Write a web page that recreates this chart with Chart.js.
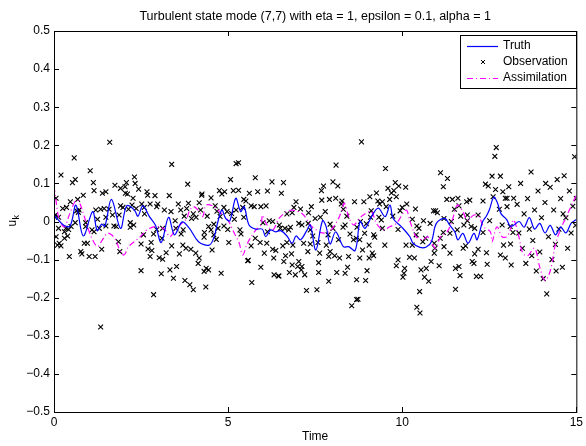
<!DOCTYPE html>
<html>
<head>
<meta charset="utf-8">
<script src="https://cdn.jsdelivr.net/npm/chart.js@4.4.0/dist/chart.umd.min.js"></script>
<style>
  html, body { margin: 0; padding: 0; background: #fff; }
</style>
</head>
<body>
<canvas id="c" width="586" height="446"></canvas>
<script>
// ---- data ----
const titleText = 'Turbulent state mode (7,7) with eta = 1, epsilon = 0.1, alpha = 1';
const xTicks = [0, 5, 10, 15];
const yTicks = [0.5, 0.4, 0.3, 0.2, 0.1, 0, -0.1, -0.2, -0.3, -0.4, -0.5];

// Truth (blue solid) : [time, u]
const truth = [
  [0, 0.017], [0.27, -0.009], [0.46, -0.012], [0.63, 0.043], [0.84, -0.038], [1.11, 0.026],
  [1.24, -0.024], [1.36, -0.007], [1.46, -0.012], [1.65, 0.058], [1.91, -0.018], [2.09, 0.041],
  [2.31, 0.030], [2.41, 0.014], [2.55, 0.041], [2.74, 0.013], [2.91, -0.009], [3.08, -0.055],
  [3.29, 0.011], [3.46, -0.035], [3.68, -0.001], [3.89, -0.018], [4.15, -0.053], [4.46, -0.062],
  [4.6, -0.04], [4.68, -0.01], [4.82, 0.03], [4.93, 0.008], [5.05, 0.002], [5.22, 0.061],
  [5.36, 0.026], [5.46, 0.039], [5.6, -0.009], [5.79, -0.02], [5.98, -0.02], [6.08, -0.04],
  [6.22, -0.022], [6.36, -0.027], [6.51, -0.024], [6.69, -0.038], [6.84, -0.057], [6.95, -0.038],
  [7.08, -0.048], [7.27, -0.022], [7.36, -0.009], [7.52, -0.075], [7.71, 0.002], [7.81, -0.012],
  [7.93, -0.059], [8.09, -0.027], [8.31, -0.066], [8.46, -0.066], [8.65, -0.076], [8.79, 0],
  [8.93, -0.018], [9.12, 0.013], [9.31, 0.035], [9.51, 0.013], [9.65, 0.043], [9.74, 0.008],
  [9.98, -0.014], [10.22, -0.04], [10.31, -0.057], [10.51, -0.068], [10.69, -0.067], [10.84, -0.053],
  [10.98, -0.005], [11.22, 0.008], [11.36, -0.009], [11.51, -0.027], [11.6, -0.048], [11.74, -0.031],
  [11.89, -0.057], [12.06, -0.031], [12.15, -0.048], [12.31, 0], [12.41, 0.013], [12.5, 0.03],
  [12.63, 0.064], [12.73, 0.05], [12.84, 0.02], [13.0, 0.005], [13.1, -0.012], [13.2, -0.01],
  [13.36, 0], [13.5, -0.015], [13.65, 0.01], [13.8, -0.02], [13.95, -0.005], [14.1, -0.03],
  [14.25, -0.01], [14.4, -0.035], [14.55, -0.015], [14.7, -0.03], [14.85, -0.005], [15, 0.005]
];

// Assimilation (magenta dash-dot) : [time, u]
const assimilation = [
  [0, 0.093], [0.05, 0.06], [0.12, 0.017], [0.2, -0.005], [0.3, -0.014], [0.45, 0.02],
  [0.63, 0.056], [0.72, 0.052], [0.87, 0.013], [0.96, -0.014], [1.11, -0.048], [1.25, -0.066],
  [1.39, -0.048], [1.53, -0.031], [1.65, -0.035], [1.77, -0.048], [1.89, -0.075], [2.01, -0.088],
  [2.14, -0.066], [2.43, -0.044], [2.57, -0.031], [2.67, -0.022], [2.86, -0.014], [3.05, -0.014],
  [3.19, -0.022], [3.33, -0.04], [3.48, -0.022], [3.67, -0.005], [3.81, 0.008], [3.9, 0.03],
  [4.0, 0.039], [4.14, 0.03], [4.27, 0.013], [4.37, 0.043], [4.6, 0.039], [4.8, 0.021],
  [4.99, 0.004], [5.18, -0.031], [5.32, -0.057], [5.42, -0.088], [5.54, -0.06], [5.66, -0.04],
  [5.8, -0.022], [5.94, -0.009], [5.99, 0.017], [6.09, -0.005], [6.28, -0.022], [6.46, 0.008],
  [6.69, 0.026], [6.84, 0.03], [7.12, 0.021], [7.27, 0.004], [7.36, -0.009], [7.5, -0.02],
  [7.7, -0.03], [7.89, -0.027], [8.03, -0.014], [8.17, 0.008], [8.27, 0.03], [8.34, 0.048],
  [8.46, 0.013], [8.6, -0.009], [8.74, 0.004], [8.88, 0.017], [9.11, 0.026], [9.26, -0.005],
  [9.45, -0.022], [9.64, -0.014], [9.83, -0.005], [10.11, 0.03], [10.21, 0.004], [10.31, -0.022],
  [10.4, -0.04], [10.59, -0.048], [10.73, -0.04], [10.88, -0.062], [10.97, -0.07], [11.1, -0.04],
  [11.29, -0.027], [11.44, 0.004], [11.58, 0.043], [11.72, 0.03], [11.87, 0.004], [12.06, 0.017],
  [12.2, 0.013], [12.34, -0.014], [12.53, -0.027], [12.58, -0.053], [12.72, -0.014], [12.87, -0.04],
  [13.0, -0.04], [13.1, -0.022], [13.2, 0.004], [13.35, -0.04], [13.46, -0.083], [13.6, -0.09],
  [13.8, -0.07], [13.95, -0.12], [14.1, -0.155], [14.25, -0.13], [14.4, -0.06], [14.55, -0.02],
  [14.7, 0.01], [14.85, 0.04], [15, 0.07]
];

// Observation (black x markers) : [time, u]
const observation = [
  [1.60, 0.208], [0.58, 0.167], [1.04, 0.133], [0.20, 0.122], [0.53, 0.102], [0.61, 0.11],
  [1.13, 0.102], [1.75, 0.095], [1.91, 0.087], [2.04, 0.091], [1.15, 0.081], [1.49, 0.078],
  [1.39, 0.074], [0.06, 0.061], [0.84, 0.069], [0.68, 0.058], [0.47, 0.052], [0.25, 0.034],
  [0.36, 0.037], [0.72, 0.03], [0.65, 0.028], [0.70, 0.024], [1.2, 0.03], [1.58, 0.032],
  [1.34, 0.032], [1.44, 0.034], [1.91, 0.041], [1.98, 0.037], [0.04, 0.017], [0.0, 0.014],
  [0.13, 0.011], [0.61, -0.003], [0.91, -0.003], [1.25, 0.006], [1.49, 0.011], [1.68, 0.017],
  [1.87, 0.017], [0.13, -0.018], [0.34, -0.018], [0.49, -0.013], [0.42, -0.021], [0.91, -0.013],
  [1.09, -0.022], [1.15, -0.027], [1.30, -0.018], [1.72, -0.012], [1.79, -0.013], [0.30, -0.027],
  [0.39, -0.038], [0.06, -0.04], [0.30, -0.044], [0.15, -0.057], [0.10, -0.062], [0.20, -0.064],
  [0.87, -0.057], [0.96, -0.057], [0.77, -0.079], [0.80, -0.085], [0.44, -0.092], [1.01, -0.092],
  [1.18, -0.092], [1.37, -0.073], [1.89, -0.079], [1.34, -0.277], [1.85, -0.053], [1.49, -0.012],

  [3.38, 0.15], [2.31, 0.117], [2.08, 0.102], [2.33, 0.1], [3.84, 0.098], [2.43, 0.085],
  [2.05, 0.074], [2.11, 0.072], [2.67, 0.078], [2.69, 0.069], [2.27, 0.061], [2.9, 0.068],
  [3.31, 0.068], [4.24, 0.069], [2.24, 0.043], [2.52, 0.046], [2.76, 0.046], [2.98, 0.046],
  [3.57, 0.046], [3.86, 0.048], [4.17, 0.049], [2.14, 0.032], [2.36, 0.034], [2.59, 0.037],
  [2.95, 0.039], [3.17, 0.03], [3.36, 0.026], [3.64, 0.03], [3.81, 0.034], [4.21, 0.03],
  [4.0, 0.02], [2.6, 0.02], [3.74, 0.014], [4.08, 0.011], [3.48, 0.002], [2.19, -0.003],
  [2.29, -0.009], [2.19, -0.015], [3.95, 0.008], [3.5, -0.018], [3.71, -0.022], [2.95, -0.021],
  [3.12, -0.018], [2.86, -0.033], [2.57, -0.035], [3.65, -0.033], [3.1, -0.044], [2.79, -0.055],
  [2.5, -0.059], [3.38, -0.064], [3.7, -0.062], [3.79, -0.07], [2.7, -0.072], [2.81, -0.076],
  [3.22, -0.082], [3.6, -0.085], [3.93, -0.073], [4.07, -0.083], [2.76, -0.092], [3.02, -0.095],
  [3.12, -0.099], [4.17, -0.096], [4.14, -0.11], [3.52, -0.118], [3.33, -0.127], [2.5, -0.129],
  [3.08, -0.137], [3.43, -0.149], [3.76, -0.155], [3.9, -0.166], [4.0, -0.179], [2.86, -0.192],

  [5.23, 0.152], [5.30, 0.154], [5.07, 0.11], [5.78, 0.115], [6.26, 0.104], [4.75, 0.081],
  [4.9, 0.078], [4.82, 0.072], [5.15, 0.081], [5.3, 0.082], [5.61, 0.074], [5.85, 0.078],
  [6.13, 0.08], [4.25, 0.072], [4.51, 0.062], [4.63, 0.041], [4.88, 0.037], [5.45, 0.058],
  [5.51, 0.054], [5.66, 0.041], [5.75, 0.039], [5.94, 0.039], [6.09, 0.041], [4.68, 0.027],
  [4.97, 0.026], [5.1, 0.021], [5.23, 0.03], [5.42, 0.037], [4.4, 0.014], [4.77, 0.013],
  [5.18, 0.006], [5.45, 0.011], [4.59, -0.007], [6.0, -0.003], [6.18, 0.002], [6.28, 0.0],
  [6.47, -0.009], [4.44, -0.013], [4.71, -0.018], [4.88, -0.012], [4.99, -0.021], [5.34, -0.022],
  [4.32, -0.029], [4.51, -0.022], [5.37, -0.033], [6.13, -0.027], [4.59, -0.035], [4.31, -0.041],
  [4.66, -0.047], [5.78, -0.044], [5.02, -0.055], [5.92, -0.055], [6.11, -0.057], [5.66, -0.064],
  [4.54, -0.075], [6.28, -0.073], [6.37, -0.076], [6.04, -0.083], [6.31, -0.096], [5.56, -0.103],
  [5.58, -0.102], [5.94, -0.12], [4.37, -0.123], [4.44, -0.127], [4.31, -0.131], [4.8, -0.136],
  [6.32, -0.14], [6.44, -0.143], [5.68, -0.16], [4.36, -0.172],

  [8.1, 0.148], [6.59, 0.102], [8.01, 0.104], [8.15, 0.093], [6.53, 0.074], [7.74, 0.093],
  [7.68, 0.081], [6.95, 0.052], [7.69, 0.056], [7.91, 0.058], [8.09, 0.061], [8.27, 0.054],
  [8.63, 0.052], [6.89, 0.037], [7.08, 0.033], [7.39, 0.039], [8.25, 0.046], [8.31, 0.032],
  [6.84, 0.023], [7.31, 0.023], [7.79, 0.026], [6.69, 0.02], [7.5, 0.008], [7.65, 0.011],
  [8.41, 0.014], [7.03, -0.005], [7.12, -0.009], [7.3, -0.005], [7.93, -0.007], [8.36, -0.009],
  [6.5, -0.018], [6.63, -0.018], [6.79, -0.015], [6.74, -0.022], [7.36, -0.022], [7.43, -0.038],
  [8.01, -0.018], [8.3, -0.015], [8.5, -0.033], [7.87, -0.035], [6.69, -0.055], [6.86, -0.062],
  [7.17, -0.057], [7.36, -0.059], [7.82, -0.062], [8.17, -0.048], [8.6, -0.048], [8.68, -0.044],
  [6.57, -0.064], [7.58, -0.055], [7.29, -0.079], [7.93, -0.079], [7.63, -0.083], [6.65, -0.09],
  [6.82, -0.085], [7.89, -0.092], [8.06, -0.09], [8.2, -0.096], [8.46, -0.092], [6.6, -0.105],
  [6.84, -0.114], [7.03, -0.105], [7.6, -0.108], [7.0, -0.118], [7.12, -0.118], [8.43, -0.12],
  [6.46, -0.143], [6.76, -0.134], [6.93, -0.14], [7.1, -0.127], [7.2, -0.14], [7.6, -0.134],
  [8.12, -0.134], [8.36, -0.136], [7.89, -0.157], [7.25, -0.181], [7.55, -0.179], [8.69, -0.205],
  [8.55, -0.221],

  [8.83, 0.209], [9.52, 0.139], [9.8, 0.102], [9.9, 0.093], [10.1, 0.09], [9.59, 0.087],
  [9.69, 0.075], [9.76, 0.081], [9.26, 0.075], [9.07, 0.065], [9.64, 0.058], [9.83, 0.065],
  [9.3, 0.054], [9.43, 0.052], [9.35, 0.046], [8.9, 0.052], [10.13, 0.046], [9.54, 0.039],
  [10.0, 0.037], [10.38, 0.033], [9.94, 0.028], [10.9, 0.028], [9.11, 0.028], [9.09, 0.011],
  [9.73, 0.014], [9.33, 0.011], [10.29, 0.006], [10.61, 0.002], [10.8, -0.005], [8.8, 0.0],
  [9.4, 0.004], [8.97, -0.006], [10.42, -0.012], [10.48, -0.018], [8.7, -0.015], [9.43, -0.018],
  [9.88, -0.021], [8.92, -0.031], [9.18, -0.035], [9.21, -0.041], [10.4, -0.035], [10.67, -0.044],
  [10.59, -0.053], [8.78, -0.048], [9.05, -0.062], [9.5, -0.062], [10.11, -0.062], [10.29, -0.062],
  [10.92, -0.057], [8.86, -0.075], [9.14, -0.083], [9.18, -0.09], [10.92, -0.083], [8.78, -0.096],
  [9.05, -0.096], [10.21, -0.094], [10.35, -0.096], [9.88, -0.101], [9.83, -0.116], [10.83, -0.105],
  [10.69, -0.123], [10.54, -0.127], [10.07, -0.123], [10.05, -0.136], [10.02, -0.146], [8.99, -0.129],
  [10.64, -0.146], [8.69, -0.153], [10.76, -0.157], [8.95, -0.155], [10.5, -0.184], [8.73, -0.204],
  [10.42, -0.225], [10.51, -0.24],

  [12.7, 0.194], [12.66, 0.171], [11.1, 0.128], [11.3, 0.113], [12.58, 0.119], [12.82, 0.119],
  [11.18, 0.091], [12.39, 0.098], [12.47, 0.093], [12.68, 0.084], [12.89, 0.078], [13.06, 0.091],
  [13.2, 0.061], [11.28, 0.058], [11.44, 0.058], [11.6, 0.061], [11.85, 0.052], [11.94, 0.056],
  [12.32, 0.054], [12.61, 0.065], [12.96, 0.061], [13.01, 0.061], [11.5, 0.032], [10.96, 0.028],
  [11.01, 0.023], [11.63, 0.041], [12.79, 0.032], [13.01, 0.039], [11.68, 0.014], [11.2, 0.008],
  [11.87, 0.017], [12.18, 0.017], [12.51, 0.002], [11.41, 0.0], [11.87, 0.002], [11.77, -0.009],
  [11.98, -0.013], [12.08, -0.018], [12.87, -0.009], [13.1, -0.013], [11.58, -0.022], [11.18, -0.029],
  [11.37, -0.031], [11.09, -0.044], [12.32, -0.029], [13.18, -0.029], [11.75, -0.07], [11.82, -0.064],
  [11.2, -0.066], [10.94, -0.07], [12.91, -0.062], [13.11, -0.059], [12.18, -0.073], [11.37, -0.083],
  [12.08, -0.085], [12.42, -0.082], [12.82, -0.088], [12.96, -0.096], [12.01, -0.105], [12.06, -0.11],
  [13.13, -0.114], [12.44, -0.112], [11.06, -0.116], [11.63, -0.118], [11.53, -0.123], [11.66, -0.142],
  [12.13, -0.144], [12.25, -0.144], [11.53, -0.178],

  [13.3, 0.045], [13.35, -0.03], [13.4, 0.1], [13.45, -0.07], [13.5, 0.02], [13.55, -0.11],
  [13.6, 0.06], [13.65, -0.02], [13.7, 0.13], [13.75, -0.05], [13.8, 0.03], [13.85, -0.13],
  [13.9, 0.08], [13.95, -0.08], [14.0, 0.01], [14.05, -0.15], [14.1, 0.05], [14.15, -0.19],
  [14.2, -0.04], [14.25, 0.09], [14.3, -0.1], [14.35, 0.03], [14.4, -0.06], [14.45, 0.11],
  [14.5, -0.02], [14.55, 0.06], [14.6, -0.12], [14.65, 0.12], [14.7, 0.01], [14.75, -0.07],
  [14.8, 0.08], [14.85, -0.03], [14.9, 0.04], [14.95, 0.17], [15.0, 0.06], [14.98, -0.01],
  [13.72, -0.09], [14.12, 0.1], [14.62, 0.02], [14.42, -0.13]
];

const FONT = 'Liberation Sans, Arial, Helvetica, sans-serif';
const toXY = arr => arr.map(p => ({ x: p[0], y: p[1] }));
const fmt = v => {
  const r = Math.round(v * 10) / 10;
  return r === 0 ? '0' : String(r).replace('-', '\u2212');
};

// MATLAB-like frame: box, inward ticks, title, labels, legend
const matlabFrame = {
  id: 'matlabFrame',
  afterDraw(chart) {
    const { ctx, chartArea: a, scales: { x, y } } = chart;
    ctx.save();
    ctx.strokeStyle = '#000';
    ctx.lineWidth = 1;
    ctx.strokeRect(a.left + 0.5, a.top + 0.5, a.right - a.left, a.bottom - a.top);

    const tl = 5;
    ctx.beginPath();
    xTicks.forEach(t => {
      const px = Math.round(x.getPixelForValue(t)) + 0.5;
      ctx.moveTo(px, a.bottom); ctx.lineTo(px, a.bottom - tl);
      ctx.moveTo(px, a.top); ctx.lineTo(px, a.top + tl);
    });
    yTicks.forEach(t => {
      const py = Math.round(y.getPixelForValue(t)) + 0.5;
      ctx.moveTo(a.left, py); ctx.lineTo(a.left + tl, py);
      ctx.moveTo(a.right, py); ctx.lineTo(a.right - tl, py);
    });
    ctx.stroke();

    ctx.fillStyle = '#000';
    ctx.textAlign = 'center';
    ctx.textBaseline = 'middle';
    ctx.font = '12.5px ' + FONT;
    ctx.fillText(titleText, (a.left + a.right) / 2, 17);
    ctx.font = '12px ' + FONT;
    ctx.fillText('Time', (a.left + a.right) / 2, 437);

    // y label u_k
    ctx.save();
    ctx.translate(13, (a.top + a.bottom) / 2);
    ctx.rotate(-Math.PI / 2);
    ctx.textAlign = 'left';
    ctx.font = '12px ' + FONT;
    ctx.fillText('u', -5, 0);
    ctx.font = '9px ' + FONT;
    ctx.fillText('k', 2, 4);
    ctx.restore();

    // legend
    const lx = 460, ly = 35, lw = 116, lh = 53;
    ctx.fillStyle = '#fff';
    ctx.fillRect(lx, ly, lw, lh);
    ctx.strokeRect(lx + 0.5, ly + 0.5, lw, lh);
    const rows = [
      { label: 'Truth', kind: 'line', color: '#0000ff', dash: [] },
      { label: 'Observation', kind: 'mark' },
      { label: 'Assimilation', kind: 'line', color: '#ff00ff', dash: [6, 3, 1, 3] }
    ];
    rows.forEach((r, i) => {
      const cy = ly + 11 + i * 16;
      if (r.kind === 'line') {
        ctx.save();
        ctx.strokeStyle = r.color;
        ctx.lineWidth = 1.2;
        ctx.setLineDash(r.dash);
        ctx.beginPath();
        ctx.moveTo(467, cy + 0.5); ctx.lineTo(498, cy + 0.5);
        ctx.stroke();
        ctx.restore();
      } else {
        ctx.beginPath();
        ctx.moveTo(481, cy - 2); ctx.lineTo(485, cy + 2);
        ctx.moveTo(485, cy - 2); ctx.lineTo(481, cy + 2);
        ctx.stroke();
      }
      ctx.fillStyle = '#000';
      ctx.textAlign = 'left';
      ctx.font = '12px ' + FONT;
      ctx.fillText(r.label, 503, cy);
    });
    ctx.restore();
  }
};

new Chart(document.getElementById('c'), {
  type: 'scatter',
  data: {
    datasets: [
      {
        label: 'Truth', data: toXY(truth), showLine: true,
        borderColor: '#0000ff', borderWidth: 1.2, pointRadius: 0,
        tension: 0.35, order: 1
      },
      {
        label: 'Observation', data: toXY(observation), showLine: false,
        pointStyle: 'crossRot', pointRadius: 3.4, borderColor: '#000',
        backgroundColor: '#000', pointBorderWidth: 1.1, order: 3
      },
      {
        label: 'Assimilation', data: toXY(assimilation), showLine: true,
        borderColor: '#ff00ff', borderWidth: 1.2, borderDash: [6, 3, 1, 3],
        pointRadius: 0, tension: 0.35, order: 2
      }
    ]
  },
  options: {
    responsive: false, animation: false,
    layout: { padding: { top: 31, right: 8, left: 0, bottom: 0 } },
    plugins: { legend: { display: false }, tooltip: { enabled: false }, title: { display: false } },
    scales: {
      x: {
        type: 'linear', min: 0, max: 15,
        afterBuildTicks: s => { s.ticks = xTicks.map(v => ({ value: v })); },
        afterFit: s => { s.height = 34; },
        grid: { display: false, drawTicks: false }, border: { display: false },
        ticks: { color: '#000', font: { family: FONT, size: 12 }, padding: 3, maxRotation: 0, autoSkip: false }
      },
      y: {
        type: 'linear', min: -0.5, max: 0.5,
        afterBuildTicks: s => { s.ticks = yTicks.map(v => ({ value: v })); },
        afterFit: s => { s.width = 54; },
        grid: { display: false, drawTicks: false }, border: { display: false },
        ticks: { color: '#000', font: { family: FONT, size: 12 }, padding: 4, callback: fmt, autoSkip: false }
      }
    }
  },
  plugins: [matlabFrame]
});
</script>
</body>
</html>
